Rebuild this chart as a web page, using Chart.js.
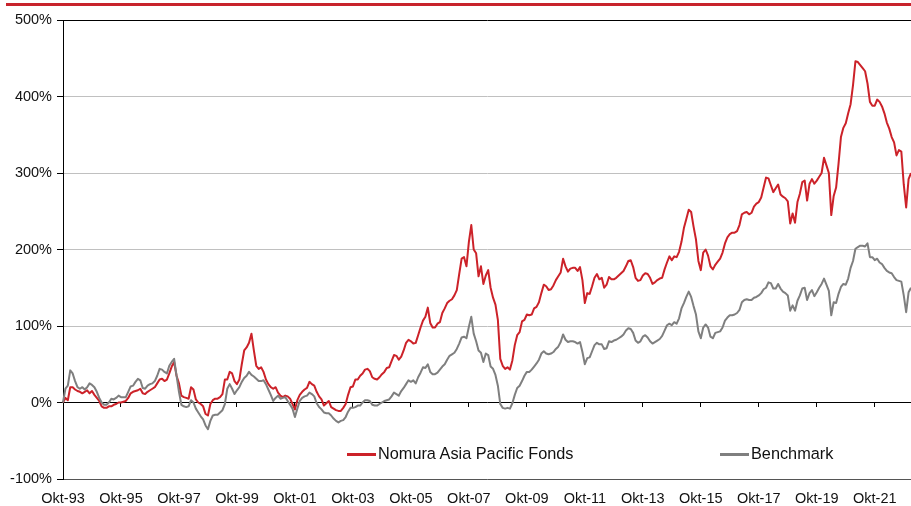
<!DOCTYPE html>
<html>
<head>
<meta charset="utf-8">
<script src="https://cdn.jsdelivr.net/npm/chart.js@4.4.1/dist/chart.umd.min.js"></script>
<style>
  html, body { margin: 0; padding: 0; background: #fff; }
  #wrap { position: relative; width: 911px; height: 506px; overflow: hidden; font-family: 'Liberation Sans', Arial, sans-serif; }
  #chart { position: absolute; left: 0; top: 0; }
  #topbar { position: absolute; left: 6px; top: 3px; width: 905px; height: 3px; background: #c8232c; }
  .lg { position: absolute; top: 443px; font-size: 16.3px; color: #111; line-height: 20px; white-space: nowrap; }
  .lg i { display: inline-block; width: 29px; height: 3px; vertical-align: middle; margin-right: 2px; }
</style>
</head>
<body>
<div id="wrap">
  <canvas id="chart" width="911" height="506"></canvas>
  <div id="topbar"></div>
  <div class="lg" style="left:347px"><i style="background:#cc2229"></i>Nomura Asia Pacific Fonds</div>
  <div class="lg" style="left:720px"><i style="background:#7f7f7f"></i>Benchmark</div>
</div>
<script>
// monthly series, Okt-93 .. Jan-23, cumulative performance in %
const startYear = 1993, startMonth = 9; // October
const tickLabels = ['Okt-93', 'Okt-95', 'Okt-97', 'Okt-99', 'Okt-01', 'Okt-03', 'Okt-05',
  'Okt-07', 'Okt-09', 'Okt-11', 'Okt-13', 'Okt-15', 'Okt-17', 'Okt-19', 'Okt-21'];

const fund = [
  0, 6, 3, 20, 20, 17, 15, 14, 12, 14, 16, 12,
  15, 10, 6, 2, -5, -7, -7, -5, -5, -3, -2, 0,
  0, 1, 2, 6, 12, 14, 15, 16, 18, 12, 11, 14,
  16, 18, 20, 25, 30, 31, 28, 30, 38, 47, 53, 35,
  25, 9, 7, 6, 5, 20, 17, 4, 0, -2, -5, -15,
  -17, -2, 3, 5, 5, 7, 11, 30, 30, 40, 38, 28,
  24, 30, 50, 68, 72, 78, 90, 68, 48, 44, 46, 40,
  30, 24, 20, 18, 20, 13, 9, 7, 9, 8, 5, -2,
  -9, 3, 10, 14, 17, 19, 27, 24, 22, 14, 8, 4,
  -4, -1, 2, -6, -8, -10, -11, -11, -7, -2, 10, 20,
  21, 30, 30, 35, 38, 43, 44, 41, 33, 31, 30, 33,
  37, 40, 45, 46, 54, 62, 61, 56, 60, 68, 78, 82,
  80, 77, 78, 88, 98, 107, 112, 124, 104, 98, 98, 103,
  105, 117, 123, 130, 133, 135, 140, 147, 168, 188, 190, 178,
  210, 232, 200, 195, 165, 178, 155, 166, 173, 150, 137, 128,
  108, 57, 48, 44, 46, 43, 55, 75, 88, 92, 106, 108,
  115, 114, 115, 123, 125, 131, 143, 154, 152, 147, 148, 153,
  160, 165, 170, 188, 178, 171, 175, 176, 176, 172, 177, 160,
  130, 143, 142, 152, 163, 168, 161, 163, 150, 154, 164, 161,
  161, 163, 166, 169, 172, 178, 185, 186, 177, 163, 159, 160,
  166, 169, 168, 163, 155, 157, 160, 162, 163, 174, 183, 191,
  186, 191, 190, 197, 210, 228, 240, 252, 249, 230, 213, 185,
  173, 196, 200, 192, 178, 174, 180, 184, 188, 196, 208, 216,
  220, 222, 222, 224, 232, 246, 248, 249, 246, 248, 256, 260,
  262, 268, 281, 294, 293, 284, 275, 280, 285, 272, 269, 267,
  263, 234, 247, 235, 262, 273, 288, 290, 264, 286, 292, 286,
  290, 295, 300, 320, 310, 300, 245, 270, 281, 312, 347, 359,
  365, 378, 390, 415, 446, 445, 441, 437, 433, 417, 393, 388,
  388, 396, 393, 387, 378, 366, 358, 347, 340, 323, 330, 328,
  285, 255, 292, 300
];

const bench = [
  0, 18, 22, 42, 38, 28, 20, 18, 20, 17, 20, 25,
  23, 20, 14, 6, 0, -3, -3, 0, 5, 4, 6, 9,
  7, 7, 7, 14, 21, 22, 27, 31, 29, 19, 18, 22,
  24, 25, 28, 35, 44, 43, 40, 38, 48, 53, 57, 35,
  14, -3, -5, -6, -5, 3, 0, -8, -13, -18, -22, -30,
  -35, -24, -17, -16, -16, -13, -10, -2, 18, 24, 18, 11,
  16, 20, 27, 32, 35, 40, 36, 34, 31, 28, 28, 29,
  24, 17, 10, 2, 6, 9, 5, 6, 7, 2, -3, -8,
  -19, -8, 2, 6, 8, 9, 13, 11, 8, -1, -6, -9,
  -13, -14, -14, -17, -21, -24, -26, -24, -23, -19, -12, -7,
  -7, -6, -4, -4, 0, 3, 3, 2, -3, -4, -4, -2,
  0, 2, 3, 4, 8, 13, 11, 9, 15, 19, 24, 29,
  27, 29, 25, 33, 39, 46, 45, 50, 40, 37, 37, 39,
  43, 47, 50, 56, 61, 63, 65, 70, 77, 85, 86, 84,
  99, 112, 90, 80, 68, 65, 53, 64, 62, 47, 44, 36,
  22, -2, -7, -8, -7, -8, -1, 10, 19, 22, 28, 35,
  40, 40, 43, 47, 51, 56, 64, 67, 64, 63, 64, 66,
  70, 73, 79, 89, 82, 79, 80, 80, 79, 77, 79, 66,
  50, 58, 59, 67, 75, 78, 76, 76, 70, 71, 80, 79,
  81, 82, 84, 86, 89, 94, 97, 96, 91, 81, 78, 80,
  86, 88, 85, 80, 77, 79, 81, 83, 87, 94, 101, 103,
  101, 105, 103, 110, 123, 130, 138, 145, 138, 126, 115, 93,
  84, 98, 102, 98, 86, 84, 91, 92, 93, 98, 107, 111,
  114, 114, 115, 117, 121, 131, 134, 135, 134, 134, 137, 138,
  140, 143, 148, 150, 157, 156, 149, 149, 155, 149, 145, 143,
  140, 120, 127, 120, 133, 140, 149, 150, 134, 143, 147, 139,
  144, 150, 155, 162, 154, 146, 114, 131, 130, 142, 151, 155,
  154, 162, 176, 185, 201, 203, 205, 205, 204, 208, 190, 190,
  186, 188, 183, 181, 176, 172, 170, 169, 164, 160, 159, 158,
  140, 118, 144, 150
];

// month labels (one per data point)
const months = fund.map((_, i) => {
  const m = startMonth + i;
  return (m % 12 + 1) + '/' + (startYear + Math.floor(m / 12));
});

const tickFont = { family: "'Liberation Sans', Arial, sans-serif", size: 14.5 };

// plot runs right to the window edge, so drop the label padding chart.js adds
const noSidePad = s => { s.paddingLeft = 0; s.paddingRight = 0; };

new Chart(document.getElementById('chart'), {
  type: 'line',
  data: {
    labels: months,
    datasets: [
      { label: 'Nomura Asia Pacific Fonds', data: fund, borderColor: '#cc2229', borderWidth: 2,
        pointRadius: 0, borderJoinStyle: 'round', order: 1 },
      { label: 'Benchmark', data: bench, borderColor: '#7f7f7f', borderWidth: 2,
        pointRadius: 0, borderJoinStyle: 'round', order: 0 }
    ]
  },
  options: {
    responsive: false,
    animation: false,
    layout: { padding: { top: 20, right: 0, left: 0, bottom: 0 } },
    plugins: { legend: { display: false }, tooltip: { enabled: false } },
    scales: {
      x: {
        type: 'category', position: 'bottom', offset: false,
        grid: { display: false, drawTicks: false },
        border: { display: true, color: '#555', width: 1 },
        ticks: {
          autoSkip: false, maxRotation: 0, minRotation: 0, padding: 11, color: '#111', font: tickFont,
          callback: (v, i) => i % 24 === 0 ? tickLabels[i / 24] : ''
        },
        afterFit: s => { s.height = 27; noSidePad(s); }
      },
      x2: {
        type: 'category', position: { y: 0 }, offset: false,
        grid: { drawOnChartArea: false, drawTicks: true, tickLength: 4, color: '#000',
          tickColor: ctx => ctx.index % 24 === 0 ? '#000' : 'rgba(0,0,0,0)' },
        border: { display: true, color: '#000', width: 1 },
        ticks: { autoSkip: false, maxRotation: 0, padding: 0, font: { size: 1 }, callback: () => '' },
        afterFit: noSidePad
      },
      y: {
        min: -100, max: 500,
        ticks: { stepSize: 100, padding: 5, color: '#111', font: tickFont, callback: v => v + '%' },
        grid: { color: ctx => ctx.tick && ctx.tick.value === 500 ? '#000' : '#c0c0c0', tickColor: '#000', tickLength: 6 },
        border: { display: true, color: '#000', width: 1 },
        afterFit: s => { s.width = 63; }
      }
    }
  }
});
</script>
</body>
</html>
